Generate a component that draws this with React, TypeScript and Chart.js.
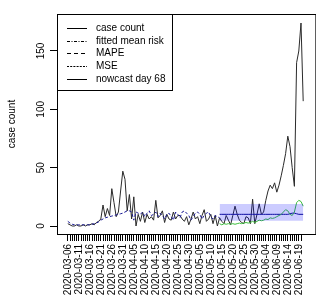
import React, { useEffect, useRef } from "react";
import { Chart, registerables } from "chart.js";

Chart.register(...registerables);

// ---- data ----
const tickLabels = [
  "2020-03-06", "2020-03-11", "2020-03-16", "2020-03-21", "2020-03-26", "2020-03-31",
  "2020-04-05", "2020-04-10", "2020-04-15", "2020-04-20", "2020-04-25", "2020-04-30",
  "2020-05-05", "2020-05-10", "2020-05-15", "2020-05-20", "2020-05-25", "2020-05-30",
  "2020-06-04", "2020-06-09", "2020-06-14", "2020-06-19",
];
const labelEvery = 5; // days between labelled ticks
const dayTickCount = 107; // one tick per day

const caseCount = [
  2, 1, 0, 0, 1, 0, 0, 1, 0, 1,
  1, 2, 1, 3, 4, 6, 18, 8, 15, 9,
  32, 20, 8, 12, 30, 47, 40, 13, 27, 6,
  25, 0, 10, 4, 12, 3, 10, 6, 8, 5,
  22, 7, 9, 13, 3, 10, 6, 5, 12, 6,
  9, 9, 6, 4, 8, 1, 6, 12, 6, 8,
  2, 9, 14, 4, 6, 10, 2, 9, 0, 7,
  4, 2, 9, 5, 1, 9, 17, 10, 5, 3,
  2, 8, 7, 2, 23, 2, 10, 19, 10, 12,
  22, 30, 35, 32, 37, 29, 35, 43, 52, 62,
  77, 68, 50, 34, 140, 150, 174, 107,
];

const fittedMeanRisk = [
  4, 2.5, 1.5, 1, 1, 1, 1, 1, 1, 1,
  1, 1.5, 2, 2.5, 3.5, 5, 6, 7, 7.5, 8,
  8.5, 9, 9.5, 10, 10.5, 11, 12, 13, 13, 12,
  5, 12, 11, 10, 12, 8, 11, 13, 9, 10,
  12, 8, 11, 9, 6, 10, 11, 8, 5, 12,
  10, 7, 12, 13, 11, 9, 5, 8, 11, 12,
  10, 6, 9, 11, 12, 8, 6, 9, 8, 7,
];

const nowcastStart = 69;
const nowcast = [
  10, 10, 10, 10, 10, 10, 10, 10, 10, 10,
  10, 10, 10, 10, 10, 10, 10, 10, 10, 10,
  10, 10, 10, 10, 10, 10, 10, 10, 10, 10,
  10, 10, 10.5, 11, 11, 10.5, 10, 10, 10,
];
const nowcastLower = [
  4.5, 4.5, 4.5, 4.5, 4.5, 4.5, 4.5, 4.5, 4.5, 4.5,
  4.5, 4.5, 4.5, 4.5, 4.5, 4.5, 4.5, 4.5, 4.5, 4.5,
  4.5, 4.5, 4.5, 4.5, 4.5, 4.5, 4.5, 4.5, 4.5, 4.5,
  4.5, 4.5, 4.5, 4.5, 4.5, 4.5, 4.5, 4.5, 4.5,
];
const nowcastUpper = [
  18.8, 18.8, 18.8, 18.8, 18.8, 18.8, 18.8, 18.8, 18.8, 18.8,
  18.8, 18.8, 18.8, 18.8, 18.8, 18.8, 18.8, 18.8, 18.8, 18.8,
  18.8, 18.8, 18.8, 18.8, 18.8, 18.8, 18.8, 18.8, 18.8, 18.8,
  18.8, 18.8, 18.8, 18.8, 18.8, 18.8, 18.8, 18.8, 18.8,
];
const errorSeries = [
  2, 1, 2, 1.5, 2, 1.5, 2, 1.5, 2, 2.5,
  2, 2.5, 3, 2.5, 3, 4, 3, 4, 5, 4.5,
  5, 6, 5.5, 7, 6.5, 7, 8, 9, 10, 12,
  14, 13, 10, 9, 12, 20, 22, 21, 17,
];

const legendLabels = ["case count", "fitted mean risk", "MAPE", "MSE", "nowcast day 68"];
const legendDashes: number[][] = [[], [3, 1.5, 1, 1.5], [4, 3], [2, 1.2], []];
const yTicks = [0, 50, 100, 150];
const yTitle = "case count";

const FONT = "'Liberation Sans', Arial, Helvetica, sans-serif";

const pts = (arr: number[], start: number) => arr.map((v, i) => ({ x: start + i, y: v }));

const rPlugin = {
  id: "rstyle",
  afterDraw(chart: any) {
    const { ctx, chartArea } = chart;
    const y = chart.scales.y;
    ctx.save();
    // plot box
    ctx.strokeStyle = "#000";
    ctx.lineWidth = 1;
    ctx.strokeRect(Math.round(chartArea.left) + 0.5, Math.round(chartArea.top) + 0.5, chartArea.right - chartArea.left + 4, Math.round(chartArea.bottom - chartArea.top));
    // y tick labels (rotated, R style)
    ctx.fillStyle = "#000";
    ctx.font = `10px ${FONT}`;
    ctx.textAlign = "center";
    ctx.textBaseline = "alphabetic";
    for (const v of yTicks) {
      const py = y.getPixelForValue(v);
      ctx.save();
      ctx.translate(43.5, py);
      ctx.rotate(-Math.PI / 2);
      ctx.fillText(String(v), 0, 0);
      ctx.restore();
    }
    // legend
    const bx = 57.5, by = 14.5, bw = 115, bh = 76;
    ctx.fillStyle = "#fff";
    ctx.fillRect(bx, by, bw, bh);
    ctx.strokeStyle = "#000";
    ctx.strokeRect(bx, by, bw, bh);
    const rows = [28.5, 41.5, 53.5, 66.5, 79.5];
    legendLabels.forEach((lab, i) => {
      ctx.beginPath();
      ctx.setLineDash(legendDashes[i]);
      ctx.moveTo(67, rows[i]);
      ctx.lineTo(87, rows[i]);
      ctx.strokeStyle = "#000";
      ctx.stroke();
      ctx.setLineDash([]);
      ctx.fillStyle = "#000";
      ctx.textAlign = "left";
      ctx.textBaseline = "middle";
      ctx.font = `10px ${FONT}`;
      ctx.fillText(lab, 96, rows[i]);
    });
    ctx.restore();
  },
};

export default function App() {
  const ref = useRef<HTMLCanvasElement | null>(null);
  useEffect(() => {
    document.body.style.margin = "0";
    const canvas = ref.current!;
    const pxPerDay = 2.24;
    const xMin = -11 / pxPerDay;
    const xMax = xMin + 259 / pxPerDay;
    const pxPerUnit = 175 / 150;
    const yMin = -8 / pxPerUnit;
    const yMax = yMin + 220 / pxPerUnit;
    const common = { pointRadius: 0, borderWidth: 1, tension: 0, fill: false };
    const chart = new Chart(canvas, {
      type: "line",
      data: {
        datasets: [
          { ...common, label: "lower", data: pts(nowcastLower, nowcastStart), borderWidth: 0, borderColor: "rgba(0,0,0,0)" },
          { ...common, label: "upper", data: pts(nowcastUpper, nowcastStart), borderWidth: 0, borderColor: "rgba(0,0,0,0)", fill: "-1", backgroundColor: "rgba(0,0,255,0.2)" },
          { ...common, label: "MAPE", data: pts(errorSeries, nowcastStart), borderColor: "#3cbf3c" },
          { ...common, label: "fitted mean risk", data: pts(fittedMeanRisk, 0), borderColor: "#1c1c96", borderDash: [3, 2] },
          { ...common, label: "nowcast day 68", data: pts(nowcast, nowcastStart), borderColor: "#10108a" },
          { ...common, label: "case count", data: pts(caseCount, 0), borderColor: "#2a2a2a" },
        ],
      },
      options: {
        responsive: false,
        animation: false,
        devicePixelRatio: 1,
        layout: { padding: { top: 14, left: 0, right: 0, bottom: 0 } },
        plugins: { legend: { display: false }, tooltip: { enabled: false }, title: { display: false } },
        scales: {
          x: {
            type: "linear",
            min: xMin,
            max: xMax,
            afterBuildTicks: (s: any) => {
              s.ticks = Array.from({ length: dayTickCount }, (_, i) => ({ value: i }));
            },
            afterFit: (s: any) => {
              s.height = 65;
            },
            grid: { display: true, drawOnChartArea: false, drawTicks: true, tickLength: 7, color: "#000", lineWidth: 1 },
            border: { display: false },
            ticks: {
              autoSkip: false,
              minRotation: 90,
              maxRotation: 90,
              padding: 3,
              color: "#000",
              font: { size: 10, family: FONT },
              callback: (v: any) => {
                const i = Math.round(Number(v));
                return i % labelEvery === 0 ? tickLabels[i / labelEvery] ?? "" : "";
              },
            },
          },
          y: {
            type: "linear",
            min: yMin,
            max: yMax,
            afterBuildTicks: (s: any) => {
              s.ticks = yTicks.map((v) => ({ value: v }));
            },
            afterFit: (s: any) => {
              s.width = 57;
            },
            grid: { display: true, drawOnChartArea: false, drawTicks: true, tickLength: 7, color: "#000", lineWidth: 1 },
            border: { display: false },
            ticks: { color: "rgba(0,0,0,0)", font: { size: 10, family: FONT } },
            title: { display: true, text: yTitle, color: "#000", font: { size: 10, family: FONT }, padding: { top: 6, bottom: 0 } },
          },
        },
      },
      plugins: [rPlugin],
    } as any);
    return () => chart.destroy();
  }, []);
  return (
    <div style={{ width: 316, height: 299, background: "#fff" }}>
      <canvas ref={ref} width={316} height={299} style={{ display: "block", width: 316, height: 299 }} />
    </div>
  );
}
